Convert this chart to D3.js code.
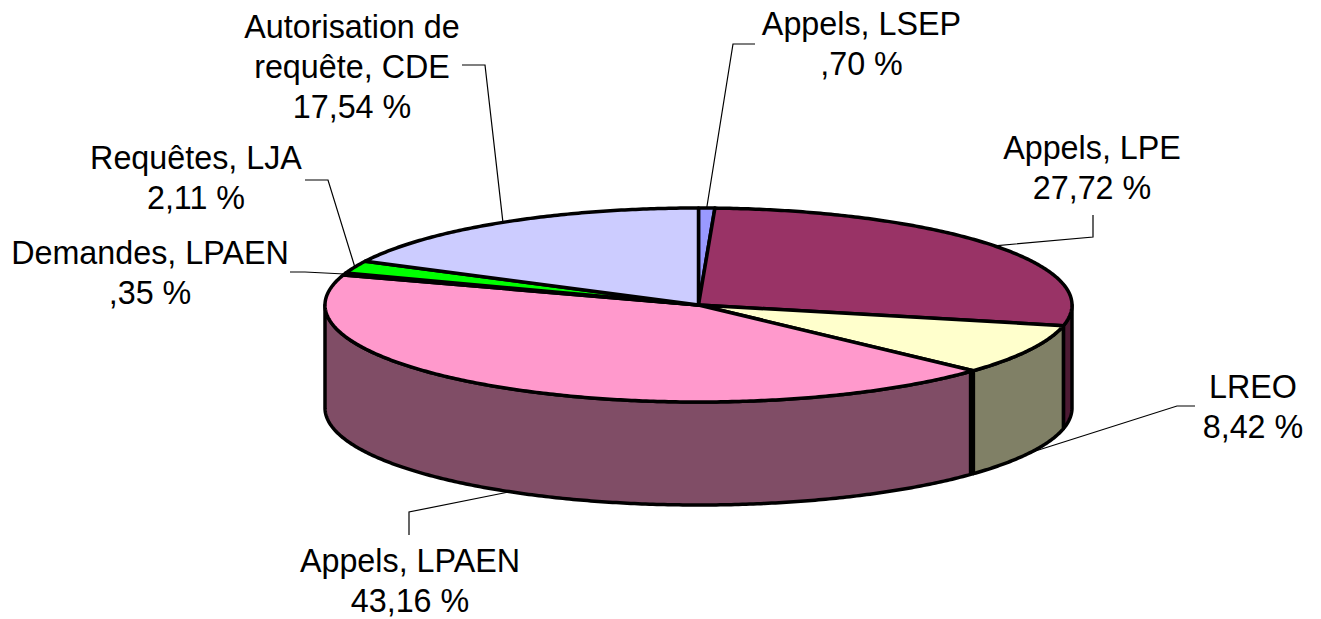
<!DOCTYPE html>
<html>
<head>
<meta charset="utf-8">
<script src="https://cdn.jsdelivr.net/npm/d3@7"></script>
<style>
  html, body { margin: 0; padding: 0; background: #fff; }
  svg { display: block; }
  text { font-family: "Liberation Sans", Arial, sans-serif; font-size: 32.3px; fill: #000; }
</style>
</head>
<body>
<script>
var w = 1321;
var h = 619;

// Data, clockwise from the top of the pie
var categories = ["Appels, LSEP", "Appels, LPE", "LREO", "Appels, LPAEN", "Demandes, LPAEN", "Requêtes, LJA", "Autorisation de requête, CDE"];
var values = [0.70, 27.72, 8.42, 43.16, 0.35, 2.11, 17.54];
var valueLabels = [",70 %", "27,72 %", "8,42 %", "43,16 %", ",35 %", "2,11 %", "17,54 %"];
var topColors = ["#9999ff", "#993366", "#ffffcc", "#ff99cc", "#000000", "#00ff00", "#ccccff"];
var sideColors = ["#4d4d80", "#4d1a33", "#808066", "#804d66", "#000000", "#008000", "#666680"];

// Label layout: text lines, text centre, and the elbow of the leader line
var labelLines = [
    ["Appels, LSEP", ",70 %"],
    ["Appels, LPE", "27,72 %"],
    ["LREO", "8,42 %"],
    ["Appels, LPAEN", "43,16 %"],
    ["Demandes, LPAEN", ",35 %"],
    ["Requêtes, LJA", "2,11 %"],
    ["Autorisation de", "requête, CDE", "17,54 %"]
];
var labelX = [861.5, 1092, 1253, 410, 150, 196, 352];
var labelY = [35, 159, 398, 572, 264, 169, 38];
var lineHeight = 40;
var leaders = [
    [[733, 44], [755, 44]],
    [[1093, 237], [1093, 215]],
    [[1177, 406], [1195, 406]],
    [[409, 512], [409, 535]],
    [[305, 272], [290, 272]],
    [[328, 180], [305, 180]],
    [[485, 65], [462, 65]]
];

// Pie geometry: an ellipse for the top and a wall below it
var cx = 698.5, cy = 305, rx = 373.5, ry = 97, depth = 103;

var xScale = d3.scaleLinear().domain([-1, 1]).range([cx - rx, cx + rx]);
var yScale = d3.scaleLinear().domain([-1, 1]).range([cy - ry, cy + ry]);

var pie = d3.pie().sort(null).value(function(d) { return d; });
var slices = pie(values);

function pointAt(a, drop) {
    return [xScale(Math.sin(a)), yScale(-Math.cos(a)) + (drop || 0)];
}

function arcPoints(a0, a1, drop) {
    var n = Math.max(2, Math.ceil(Math.abs(a1 - a0) / 0.01));
    return d3.range(n + 1).map(function(i) {
        return pointAt(a0 + (a1 - a0) * i / n, drop);
    });
}

var line = d3.line();

var svg = d3.select("body")
    .append("svg")
    .attr("width", w)
    .attr("height", h);

// Leader lines go under the pie
var leaderPoints = slices.map(function(s, i) {
    var mid = (s.startAngle + s.endAngle) / 2;
    // the front slices have their leader on the lower edge
    var drop = Math.cos(mid) < 0 ? depth : 0;
    return [pointAt(mid, drop)].concat(leaders[i]);
});

svg.selectAll("path.leader")
    .data(leaderPoints)
    .enter()
    .append("path")
    .attr("class", "leader")
    .attr("d", line)
    .attr("fill", "none")
    .attr("stroke", "#000")
    .attr("stroke-width", 1.2);

// Walls: only the part of a slice between 90 and 270 degrees faces us
var walls = slices.map(function(s, i) {
    return {
        a0: Math.max(s.startAngle, Math.PI / 2),
        a1: Math.min(s.endAngle, Math.PI * 1.5),
        i: i
    };
}).filter(function(d) { return d.a1 > d.a0; });

svg.selectAll("path.wall")
    .data(walls)
    .enter()
    .append("path")
    .attr("class", "wall")
    .attr("d", function(d) {
        return line(arcPoints(d.a0, d.a1, 0).concat(arcPoints(d.a1, d.a0, depth))) + "Z";
    })
    .attr("fill", function(d) { return sideColors[d.i]; })
    .attr("stroke", "#000")
    .attr("stroke-width", 3.5)
    .attr("stroke-linejoin", "round");

// The front edge between LREO and Appels, LPAEN is drawn heavier
var frontAngle = slices[3].startAngle;
svg.append("path")
    .attr("d", line([pointAt(frontAngle, 0), pointAt(frontAngle, depth)]))
    .attr("transform", "translate(-2,0)")
    .attr("stroke", "#000")
    .attr("stroke-width", 5);

// Top faces
svg.selectAll("path.top")
    .data(slices)
    .enter()
    .append("path")
    .attr("class", "top")
    .attr("d", function(s) {
        return line([[cx, cy]].concat(arcPoints(s.startAngle, s.endAngle, 0))) + "Z";
    })
    .attr("fill", function(s, i) { return topColors[i]; })
    .attr("stroke", "#000")
    .attr("stroke-width", 3.5)
    .attr("stroke-linejoin", "round");

// Labels
var labels = svg.selectAll("text")
    .data(labelLines)
    .enter()
    .append("text")
    .attr("text-anchor", "middle")
    .attr("x", function(d, i) { return labelX[i]; })
    .attr("y", function(d, i) { return labelY[i]; });

labels.selectAll("tspan")
    .data(function(d, i) {
        return d.map(function(t) { return { t: t, x: labelX[i] }; });
    })
    .enter()
    .append("tspan")
    .attr("x", function(d) { return d.x; })
    .attr("dy", function(d, j) { return j === 0 ? 0 : lineHeight; })
    .text(function(d) { return d.t; });
</script>
</body>
</html>
